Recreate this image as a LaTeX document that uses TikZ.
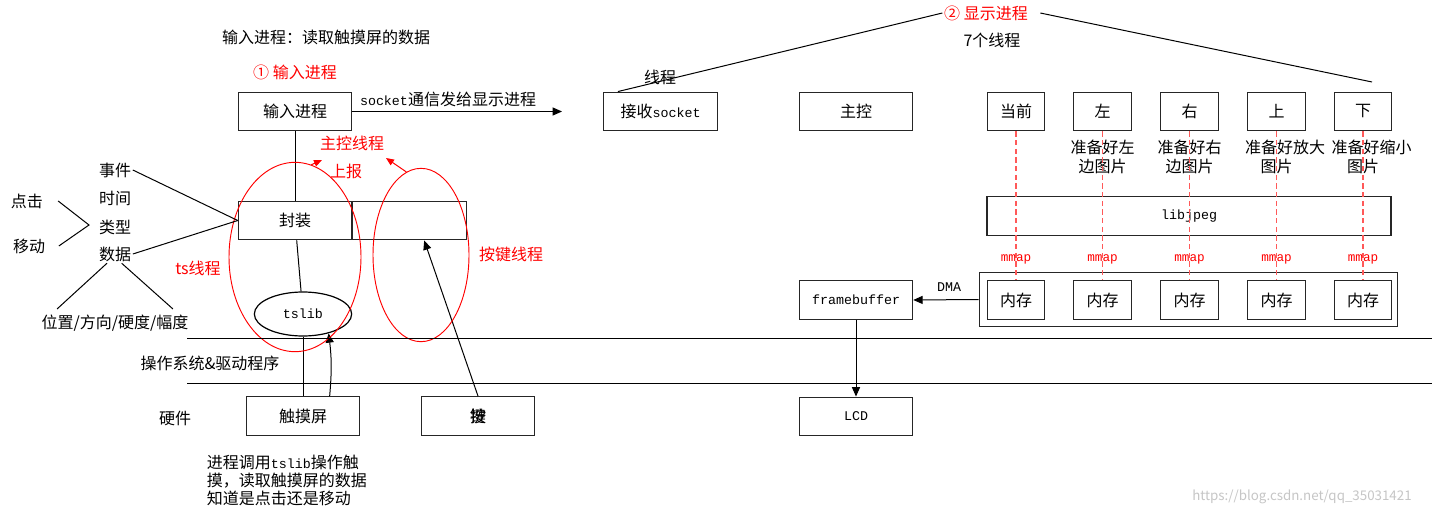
\documentclass[tikz,border=0pt]{standalone}
\usepackage{fontspec}
\setmainfont{Noto Sans CJK SC}
\setmonofont{Liberation Mono}
\usetikzlibrary{arrows.meta,shapes.geometric}

\newcommand{\mtt}[1]{{\ttfamily\fontsize{10}{12}\selectfont #1}}

\tikzset{
  box/.style={draw=black!85,line width=0.9pt,minimum width=85pt,minimum height=29pt,inner sep=0pt,font=\fontsize{12}{14}\selectfont},
  sbox/.style={box,minimum width=43pt},
  lbl/.style={inner sep=1pt,font=\fontsize{12}{14}\selectfont},
  redlbl/.style={lbl,text=red},
  mono/.style={inner sep=1pt,font=\ttfamily\fontsize{10}{12}\selectfont},
  arr/.style={-{Triangle[length=7pt,width=6pt]}},
  redarr/.style={red,-{Triangle[length=6pt,width=5pt]}},
  ring/.style={draw=red,ellipse,inner sep=0pt,line width=0.7pt},
  mmapline/.style={red!65,line width=0.9pt,dash pattern=on 4pt off 2.5pt},
}

\begin{document}
\begin{tikzpicture}[x=0.75pt,y=-0.75pt,line width=0.75pt]
\fill[white] (0,0) rectangle (1432,517);
\useasboundingbox (0,0) rectangle (1432,517);

% input process
\node[lbl] (title) at (326,37) {输入进程：读取触摸屏的数据};
\node[redlbl] (one) at (295,72) {① 输入进程};
\node[box] (inp) at (295,111.5) {输入进程};
\node[lbl] (socktxt) at (448,99) {\mtt{socket}通信发给显示进程};
\coordinate (sockend) at (562,111.5);
\draw[arr] (inp) -- (sockend);

\node[box] (pack) at (295,220.5) {封装};
\node[box,anchor=west] (blank) at (pack.east) {};
\node[draw,ellipse,line width=0.9pt,minimum width=73pt,minimum height=33pt,inner sep=0pt] (tslib) at (303,314) {\mtt{tslib}};
\node[box] (touch) at (303,416) {触摸屏};
\node[box] (key) at (478,416) {\rlap{按}键};

\draw (inp) -- (pack);
\draw (pack) -- (tslib);
\draw (tslib) -- (touch);
\draw[arr] ([xshift=20pt]touch.north) to[bend right=6] (tslib.-37);
\draw[arr] (key.north) -- ([xshift=11pt]blank.south);

% threads
\node[ring,minimum width=99pt,minimum height=142pt] (tsring) at (295,257) {};
\node[ring,minimum width=72pt,minimum height=130pt] (keyring) at (421,255) {};
\node[redlbl] (ctl) at (352,143) {主控线程};
\node[redlbl] (rep) at (346,171) {上报};
\node[redlbl] (tsth) at (198,268) {ts线程};
\node[redlbl] (keyth) at (511,254) {按键线程};
\coordinate (upL) at (322,160);
\coordinate (upR) at (386,158);
\draw[redarr] (tsring.80) -- (upL);
\draw[redarr] (keyring.100) -- (upR);

% event fields
\node[lbl] (ev) at (115,170) {事件};
\node[lbl] (tm) at (115,198) {时间};
\node[lbl] (ty) at (115,227) {类型};
\node[lbl] (dat) at (115,254) {数据};
\node[lbl] (click) at (27,201) {点击};
\node[lbl] (move) at (29,246) {移动};
\node[lbl] (pos) at (115,323) {位置/方向/硬度/幅度};
\coordinate (vtip) at (89,225);
\draw ([xshift=10pt]click.east) -- (vtip) -- ([xshift=9pt]move.east);
\draw (ev.east) -- (pack.west);
\draw (dat.east) -- (pack.west);
\draw ([xshift=-6pt]dat.south) -- ([xshift=13pt,yshift=3pt]pos.north west);
\draw ([xshift=5pt]dat.south) -- ([xshift=-13pt,yshift=3pt]pos.north east);

% layers
\coordinate (osTL) at (187,338);
\coordinate (osTR) at (1432,338);
\coordinate (osBL) at (187,383);
\coordinate (osBR) at (1432,383);
\draw (osTL) -- (osTR);
\draw (osBL) -- (osBR);
\node[lbl] (os) at (210,363) {操作系统\&驱动程序};
\node[lbl] (hw) at (175,418) {硬件};
\node[lbl,align=left,anchor=north west,font=\fontsize{12}{13.5}\selectfont] (note) at (205,453) {进程调用\mtt{tslib}操作触\\摸，读取触摸屏的数据\\知道是点击还是移动};

% display process
\node[box] (recv) at (660.5,111.5) {接收\mtt{socket}};
\node[lbl] (thr) at (660,77) {线程};
\node[redlbl] (disp) at (986,13) {② 显示进程};
\node[lbl] (seven) at (992,40) {7个线程};
\coordinate (brk) at (1372,82);
\draw ([xshift=11pt]recv.north west) -- (disp.west);
\draw ([xshift=8pt]disp.east) -- (brk);
\node[box] (main) at (856,111.5) {主控};

\node[box,minimum width=303pt] (jpeg) at (1189,216) {\mtt{libjpeg}};
\node[box,minimum width=314pt,minimum height=40pt] (memall) at (1188.5,299.5) {};
\node[box] (fb) at (856,300) {\mtt{framebuffer}};
\node[box] (lcd) at (856,416.5) {\mtt{LCD}};
\draw[arr] (memall.west) -- (fb.east);
\node[mono] (dma) at (949,287) {DMA};
\draw[arr] (fb) -- (lcd);

\foreach \px/\nt in {1102.5/{准备好左\\边图片},1189.5/{准备好右\\边图片},1276.5/{\hspace*{13pt}准备好放大\\图片},1363/{\hspace*{13pt}准备好缩小\\图片}}
  \node[lbl,align=center,font=\fontsize{12}{14.5}\selectfont] at (\px,157) {\nt};

\foreach \px/\nm/\hd in {1016/cur/当前,1102.5/lft/左,1189.5/rgt/右,1276.5/upp/上,1363/dwn/下}{
  \node[sbox] (\nm) at (\px,111.5) {\hd};
  \node[sbox] (mem\nm) at (\px,300) {内存};
  \draw[mmapline] (\nm.south) -- (mem\nm.north);
  \node[mono,text=red,font=\ttfamily\fontsize{9.5}{10}\selectfont] at (\px,259) {mmap};
}

\node[inner sep=0pt,text=gray!45,font=\fontsize{10}{12}\selectfont] (mark) at (1302,497) {https://blog.csdn.net/qq\_35031421};
\end{tikzpicture}
\end{document}
